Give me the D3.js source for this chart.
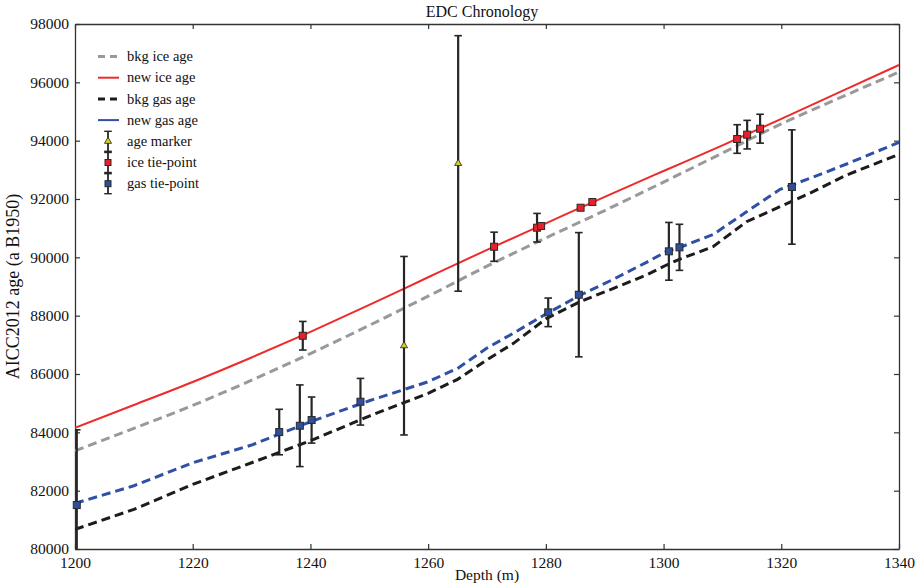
<!DOCTYPE html>
<html>
<head>
<meta charset="utf-8">
<script src="https://cdn.jsdelivr.net/npm/d3@7"></script>
<style>
  html, body { margin: 0; padding: 0; background: #fff; }
  svg text { font-family: "Liberation Serif", "Times New Roman", serif; fill: #111; }
</style>
</head>
<body>
<svg id="chart" width="915" height="585"></svg>
<script>
// Ice age curves on a 10 m depth grid
const iceDepth  = [1200, 1210, 1220, 1230, 1240, 1250, 1260, 1270, 1280, 1290, 1300, 1310, 1320, 1330, 1340];
const bkgIceAge = [83368, 84137, 84922, 85787, 86702, 87667, 88667, 89697, 90666, 91605, 92580, 93577, 94576, 95472, 96354];
const newIceAge = [84157, 84937, 85727, 86567, 87447, 88367, 89317, 90257, 91166, 92075, 92960, 93837, 94746, 95672, 96594];

// Gas age curves
const gasDepth  = [1200, 1210, 1220, 1230, 1240, 1250, 1260, 1265, 1270, 1274.5, 1280, 1285.8, 1291.5, 1297.1, 1300.5, 1302.8, 1308.4, 1314.1, 1319.8, 1325.4, 1331.1, 1340];
const bkgGasAge = [80672, 81359, 82216, 82957, 83712, 84559, 85337, 85817, 86490, 87051, 87890, 88480, 88937, 89393, 89736, 89942, 90364, 91221, 91736, 92250, 92822, 93532];
const newGasAge = [81565, 82168, 82957, 83564, 84363, 85083, 85735, 86192, 86890, 87400, 88056, 88700, 89250, 89830, 90200, 90343, 90780, 91560, 92330, 92750, 93200, 93943];

// Age markers
const markerDepth = [1255.9, 1265.1];
const markerAge   = [86970, 93220];
const markerErr   = [3060, 4380];

// Ice tie-points
const iceTieDepth = [1238.7, 1271.2, 1278.5, 1279.2, 1285.9, 1287.9, 1312.5, 1314.2, 1316.4];
const iceTieAge   = [87312, 90363, 91016, 91073, 91701, 91896, 94057, 94206, 94410];
const iceTieErr   = [490, 500, 490, 0, 0, 0, 490, 490, 495];

// Gas tie-points
const gasTieDepth = [1200.3, 1234.7, 1238.2, 1240.2, 1248.5, 1280.4, 1285.6, 1300.9, 1302.7, 1321.8];
const gasTieAge   = [81506, 84010, 84226, 84421, 85049, 88114, 88718, 90206, 90343, 92411];
const gasTieErr   = [2580, 780, 1400, 790, 800, 490, 2130, 990, 790, 1960];

// Axis ticks
const xTicks = [1200, 1220, 1240, 1260, 1280, 1300, 1320, 1340];
const yTicks = [80000, 82000, 84000, 86000, 88000, 90000, 92000, 94000, 96000, 98000];

const svg = d3.select("#chart");
const m = { left: 75, right: 16, top: 24, bottom: 36 };
const W = 915, H = 585;
const x = d3.scaleLinear().domain([1200, 1340]).range([m.left, W - m.right]);
const y = d3.scaleLinear().domain([80000, 98000]).range([H - m.bottom, m.top]);

const frameColor = "#333";
const errColor = "#262626";
const colors = {
  bkgIce: "#999999",
  newIce: "#ee2a2a",
  bkgGas: "#1c1c1c",
  newGas: "#3050a6",
  iceFill: "#e8202a",
  gasFill: "#2f4f9c",
  markerFill: "#d8d020"
};

svg.append("defs").append("clipPath").attr("id", "plotClip")
  .append("rect")
  .attr("x", x(1200)).attr("y", y(98000))
  .attr("width", x(1340) - x(1200)).attr("height", y(80000) - y(98000));

// Axes with inward ticks on all four sides
const tickLen = 5;
const axB = svg.append("g").attr("transform", `translate(0,${y(80000)})`)
  .call(d3.axisBottom(x).tickValues(xTicks).tickSizeInner(-tickLen).tickSizeOuter(0).tickPadding(6).tickFormat(d3.format("d")));
const axT = svg.append("g").attr("transform", `translate(0,${y(98000)})`)
  .call(d3.axisTop(x).tickValues(xTicks).tickSizeInner(-tickLen).tickSizeOuter(0).tickFormat(""));
const axL = svg.append("g").attr("transform", `translate(${x(1200)},0)`)
  .call(d3.axisLeft(y).tickValues(yTicks).tickSizeInner(-tickLen).tickSizeOuter(0).tickPadding(6).tickFormat(d3.format("d")));
const axR = svg.append("g").attr("transform", `translate(${x(1340)},0)`)
  .call(d3.axisRight(y).tickValues(yTicks).tickSizeInner(-tickLen).tickSizeOuter(0).tickFormat(""));
[axB, axT, axL, axR].forEach(a => {
  a.selectAll(".domain").attr("stroke", frameColor).attr("stroke-width", 1.3);
  a.selectAll(".tick line").attr("stroke", frameColor).attr("stroke-width", 1.2);
  a.selectAll("text").attr("font-size", 15.5).attr("font-family", "Liberation Serif").attr("fill", "#111");
});
axB.selectAll("text").attr("dy", "0.85em");

// Titles
svg.append("text").attr("x", 482).attr("y", 17)
  .attr("text-anchor", "middle").attr("font-size", 16).text("EDC Chronology");
svg.append("text").attr("x", (x(1200) + x(1340)) / 2).attr("y", 580)
  .attr("text-anchor", "middle").attr("font-size", 15.5).text("Depth (m)");
svg.append("text")
  .attr("transform", `translate(19,${(y(80000) + y(98000)) / 2}) rotate(-90)`)
  .attr("text-anchor", "middle").attr("font-size", 18).text("AICC2012 age (a B1950)");

// Curves
const plot = svg.append("g").attr("clip-path", "url(#plotClip)");
const line = d3.line().x(d => x(d[0])).y(d => y(d[1]));
const series = [
  { depth: iceDepth, vals: bkgIceAge, color: colors.bkgIce, width: 3, dash: "9,5", curve: d3.curveMonotoneX },
  { depth: iceDepth, vals: newIceAge, color: colors.newIce, width: 2, dash: null, curve: d3.curveMonotoneX },
  { depth: gasDepth, vals: bkgGasAge, color: colors.bkgGas, width: 3, dash: "9,5", curve: d3.curveLinear },
  { depth: gasDepth, vals: newGasAge, color: colors.newGas, width: 3, dash: "9,5", curve: d3.curveLinear }
];
series.forEach(s => {
  plot.append("path")
    .datum(s.depth.map((d, i) => [d, s.vals[i]]))
    .attr("d", line.curve(s.curve))
    .attr("fill", "none")
    .attr("stroke", s.color)
    .attr("stroke-width", s.width)
    .attr("stroke-dasharray", s.dash);
});

// Error bars
const capHalf = 3.8;
function errorBars(depths, ages, errs) {
  const data = depths.map((d, i) => ({ d, a: ages[i], e: errs[i] })).filter(p => p.e > 0);
  const g = plot.append("g").attr("stroke", errColor).attr("fill", "none");
  data.forEach(p => {
    const cx = x(p.d), y0 = y(p.a - p.e), y1 = y(p.a + p.e);
    g.append("line").attr("x1", cx).attr("x2", cx).attr("y1", y0).attr("y2", y1).attr("stroke-width", 2.2);
    g.append("line").attr("x1", cx - capHalf).attr("x2", cx + capHalf).attr("y1", y0).attr("y2", y0).attr("stroke-width", 1.6);
    g.append("line").attr("x1", cx - capHalf).attr("x2", cx + capHalf).attr("y1", y1).attr("y2", y1).attr("stroke-width", 1.6);
  });
}
errorBars(gasTieDepth, gasTieAge, gasTieErr);
errorBars(iceTieDepth, iceTieAge, iceTieErr);
errorBars(markerDepth, markerAge, markerErr);

// Point symbols
const sq = 7;
function squares(depths, ages, fill) {
  svg.append("g").selectAll("rect")
    .data(depths.map((d, i) => [d, ages[i]]))
    .join("rect")
    .attr("x", d => x(d[0]) - sq / 2).attr("y", d => y(d[1]) - sq / 2)
    .attr("width", sq).attr("height", sq)
    .attr("fill", fill).attr("stroke", "#2a2a2a").attr("stroke-width", 1);
}
squares(gasTieDepth, gasTieAge, colors.gasFill);
squares(iceTieDepth, iceTieAge, colors.iceFill);
const tri = d3.symbol().type(d3.symbolTriangle).size(22);
svg.append("g").selectAll("path")
  .data(markerDepth.map((d, i) => [d, markerAge[i]]))
  .join("path")
  .attr("d", tri)
  .attr("transform", d => `translate(${x(d[0])},${y(d[1])})`)
  .attr("fill", colors.markerFill).attr("stroke", "#222").attr("stroke-width", 0.8);

// Legend
const legend = svg.append("g");
const lx0 = 98, lx1 = 119, tx = 127, ly0 = 56.5, ldy = 21.2;
const legendItems = [
  { label: "bkg ice age", kind: "line", color: colors.bkgIce, width: 3, dash: "7,5" },
  { label: "new ice age", kind: "line", color: colors.newIce, width: 2, dash: null },
  { label: "bkg gas age", kind: "line", color: colors.bkgGas, width: 3, dash: "7,5" },
  { label: "new gas age", kind: "line", color: colors.newGas, width: 2, dash: null },
  { label: "age marker", kind: "tri" },
  { label: "ice tie-point", kind: "sq", fill: colors.iceFill },
  { label: "gas tie-point", kind: "sq", fill: colors.gasFill }
];
legendItems.forEach((it, i) => {
  const cy = ly0 + i * ldy;
  if (it.kind === "line") {
    legend.append("line").attr("x1", lx0).attr("x2", lx1).attr("y1", cy).attr("y2", cy)
      .attr("stroke", it.color).attr("stroke-width", it.width).attr("stroke-dasharray", it.dash);
  } else {
    const cx = (lx0 + lx1) / 2 - 0.5;
    const h = 10;
    legend.append("line").attr("x1", cx).attr("x2", cx).attr("y1", cy - h).attr("y2", cy + h)
      .attr("stroke", errColor).attr("stroke-width", 1.8);
    [cy - h, cy + h].forEach(yy => legend.append("line")
      .attr("x1", cx - capHalf).attr("x2", cx + capHalf).attr("y1", yy).attr("y2", yy)
      .attr("stroke", errColor).attr("stroke-width", 1.4));
    if (it.kind === "tri") {
      legend.append("path").attr("d", tri).attr("transform", `translate(${cx},${cy})`)
        .attr("fill", colors.markerFill).attr("stroke", "#222").attr("stroke-width", 0.8);
    } else {
      legend.append("rect").attr("x", cx - 3).attr("y", cy - 3).attr("width", 6).attr("height", 6)
        .attr("fill", it.fill).attr("stroke", "#2a2a2a").attr("stroke-width", 1);
    }
  }
  legend.append("text").attr("x", tx).attr("y", cy).attr("dy", "0.33em")
    .attr("font-size", 14.5).text(it.label);
});
</script>
</body>
</html>
